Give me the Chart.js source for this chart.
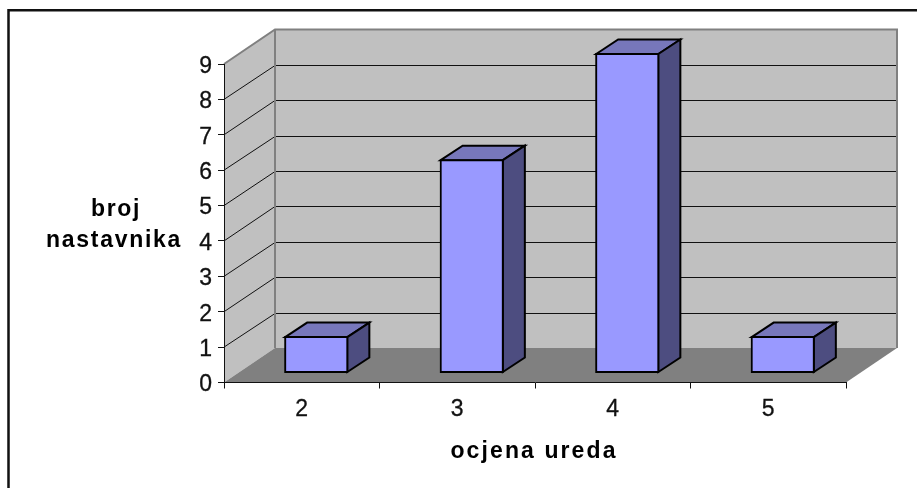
<!DOCTYPE html>
<html>
<head>
<meta charset="utf-8">
<title>ocjena ureda</title>
<script src="https://cdn.jsdelivr.net/npm/chart.js@4"></script>
<style>
  body { margin: 0; background: #fff; }
  canvas { display: block; }
</style>
</head>
<body>
<canvas id="grafico" width="917" height="488"></canvas>
<script>
// data
const categories = ['2', '3', '4', '5'];
const values = [1, 6, 9, 1];
const yMax = 9;
const yTitleLines = ['broj', 'nastavnika'];
const xTitle = 'ocjena ureda';

// fake 3D: how far the back wall and the bars sit behind the front plane
const wallDx = 51, wallDy = -34.5;
const barShiftX = 14.5, barShiftY = -10;
const boxDx = 22, boxDy = -14.5;
const fontFamily = '"Liberation Sans", Arial, sans-serif';

function poly(ctx, pts, fill, stroke, lw) {
    ctx.beginPath();
    pts.forEach((p, i) => i ? ctx.lineTo(p[0], p[1]) : ctx.moveTo(p[0], p[1]));
    ctx.closePath();
    if (fill) { ctx.fillStyle = fill; ctx.fill(); }
    if (stroke) { ctx.strokeStyle = stroke; ctx.lineWidth = lw; ctx.lineJoin = 'miter'; ctx.stroke(); }
}

const fake3d = {
    id: 'fake3d',
    // walls, floor and grid go under the axes
    beforeDraw(chart) {
        const ctx = chart.ctx, a = chart.chartArea, y = chart.scales.y;
        const l = a.left, r = a.right, t = a.top, b = a.bottom;
        ctx.save();
        ctx.fillStyle = '#fff';
        ctx.fillRect(0, 0, chart.width, chart.height);

        // frame: only top and left show
        ctx.strokeStyle = '#111';
        ctx.lineWidth = 2.5;
        ctx.beginPath();
        ctx.moveTo(8.5, 488);
        ctx.lineTo(8.5, 10.2);
        ctx.lineTo(917, 10.2);
        ctx.stroke();

        poly(ctx, [[l, t], [l + wallDx, t + wallDy], [l + wallDx, b + wallDy], [l, b]], '#c0c0c0');
        poly(ctx, [[l + wallDx, t + wallDy], [r + wallDx, t + wallDy], [r + wallDx, b + wallDy], [l + wallDx, b + wallDy]], '#c0c0c0');
        poly(ctx, [[l, b], [l + wallDx, b + wallDy], [r + wallDx, b + wallDy], [r, b]], '#808080');

        ctx.strokeStyle = '#111';
        ctx.lineWidth = 1;
        for (let v = 1; v < yMax; v++) {
            const py = y.getPixelForValue(v);
            const backY = Math.round(py + wallDy) + 0.5;
            ctx.beginPath();
            ctx.moveTo(l, py);
            ctx.lineTo(l + wallDx, backY);
            ctx.lineTo(r + wallDx, backY);
            ctx.stroke();
        }

        // gray wall edges
        ctx.strokeStyle = '#808080';
        ctx.lineWidth = 2;
        ctx.beginPath();
        ctx.moveTo(l, t);
        ctx.lineTo(l + wallDx, t + wallDy);
        ctx.lineTo(r + wallDx, t + wallDy);
        ctx.lineTo(r + wallDx, b + wallDy);
        ctx.moveTo(l + wallDx, t + wallDy);
        ctx.lineTo(l + wallDx, b + wallDy);
        ctx.stroke();
        ctx.restore();
    },
    // move the library's bars back, the top and side faces go with them
    beforeDatasetsDraw(chart) {
        const ctx = chart.ctx;
        ctx.save();
        ctx.translate(barShiftX, barShiftY);
        chart.getDatasetMeta(0).data.forEach(bar => {
            const x0 = bar.x - bar.width / 2, x1 = bar.x + bar.width / 2;
            poly(ctx, [[x0, bar.y], [x0 + boxDx, bar.y + boxDy], [x1 + boxDx, bar.y + boxDy], [x1, bar.y]], '#7777bb', '#000', 2);
            poly(ctx, [[x1, bar.y], [x1 + boxDx, bar.y + boxDy], [x1 + boxDx, bar.base + boxDy], [x1, bar.base]], '#4d4d80', '#000', 2);
        });
    },
    afterDatasetsDraw(chart) {
        chart.ctx.restore();
    },
    // axis titles, spaced out like the original
    afterDraw(chart) {
        const ctx = chart.ctx;
        ctx.save();
        ctx.fillStyle = '#000';
        ctx.font = 'bold 23px ' + fontFamily;
        ctx.textAlign = 'center';
        ctx.letterSpacing = '1.7px';
        ctx.fillText(yTitleLines[0], 116, 216);
        ctx.fillText(yTitleLines[1], 114, 247);
        ctx.letterSpacing = '2.1px';
        ctx.fillText(xTitle, 534, 458);
        ctx.restore();
    }
};

const ctx = document.getElementById('grafico').getContext('2d');
new Chart(ctx, {
    type: 'bar',
    data: {
        labels: categories,
        datasets: [{
            data: values,
            backgroundColor: '#9999ff',
            borderColor: '#000',
            borderWidth: 2,
            borderSkipped: false,
            inflateAmount: 1,
            categoryPercentage: 1,
            barPercentage: 0.4,
            clip: false
        }]
    },
    options: {
        responsive: false,
        animation: false,
        layout: { padding: { top: 64, right: 71 } },
        plugins: { legend: { display: false }, tooltip: { enabled: false } },
        scales: {
            x: {
                afterFit: s => { s.height = 105.5; },
                border: { color: '#111', width: 1 },
                grid: { offset: true, drawOnChartArea: false, tickLength: 6, color: '#111' },
                ticks: { color: '#111', padding: 7, maxRotation: 0, textStrokeColor: '#111', textStrokeWidth: 0.3, font: { family: fontFamily, size: 23 } }
            },
            y: {
                min: 0,
                max: yMax,
                afterFit: s => { s.width = 224; },
                border: { color: '#111', width: 1 },
                grid: { drawOnChartArea: false, tickLength: 6, color: '#111' },
                ticks: { stepSize: 1, color: '#111', padding: 6, labelOffset: 2.5, textStrokeColor: '#111', textStrokeWidth: 0.3, font: { family: fontFamily, size: 23 } }
            }
        }
    },
    plugins: [fake3d]
});
</script>
</body>
</html>
